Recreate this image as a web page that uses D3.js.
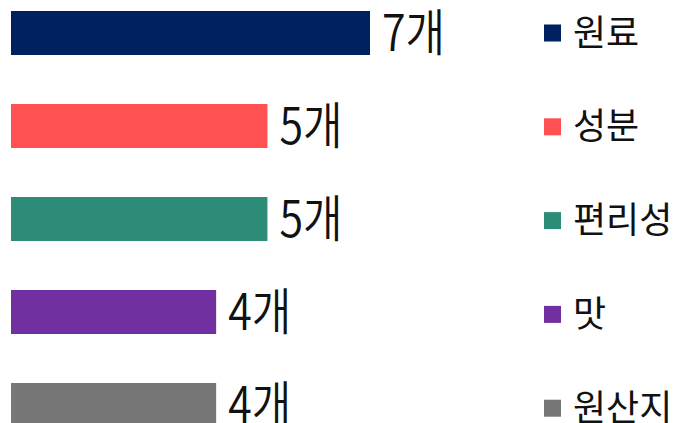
<!DOCTYPE html>
<html>
<head>
<meta charset="utf-8">
<script src="https://cdn.jsdelivr.net/npm/d3@7"></script>
<style>
  html, body { margin: 0; padding: 0; background: #ffffff; }
  svg { display: block; }
</style>
</head>
<body>
<svg id="chart" width="677" height="423"></svg>
<script>
const categories = ["원료", "성분", "편리성", "맛", "원산지"];
const values = [7, 5, 5, 4, 4];
const valueLabels = ["7개", "5개", "5개", "4개", "4개"];
const colors = ["#00215F", "#FF5052", "#2D8C78", "#7030A0", "#777777"];

const svg = d3.select("#chart");

const x = d3.scaleLinear().domain([0, 7]).range([11, 370]);
const y = d3.scaleBand().domain(categories).range([11, 427]).paddingInner(49 / 93).paddingOuter(0);

// bars
svg.selectAll("rect.bar")
  .data(categories)
  .join("rect")
  .attr("class", "bar")
  .attr("x", x(0))
  .attr("y", d => y(d))
  .attr("width", (d, i) => x(values[i]) - x(0))
  .attr("height", y.bandwidth())
  .attr("fill", (d, i) => colors[i]);

// value labels (condensed look)
svg.selectAll("text.val")
  .data(categories)
  .join("text")
  .attr("class", "val")
  .attr("transform", (d, i) => `translate(${x(values[i]) + 12},${y(d) + y.bandwidth() / 2 + 18}) scale(0.86,1)`)
  .attr("font-family", "'Noto Sans CJK KR', 'Noto Sans', sans-serif")
  .attr("font-size", 50)
  .attr("font-weight", 350)
  .attr("fill", "#111111")
  .text((d, i) => valueLabels[i]);

// legend
const lg = svg.selectAll("g.leg")
  .data(categories)
  .join("g")
  .attr("class", "leg")
  .attr("transform", (d, i) => `translate(544,${y(d) + y.bandwidth() / 2 + i * 0.8})`);

lg.append("rect")
  .attr("x", 0)
  .attr("y", -8.5)
  .attr("width", 17)
  .attr("height", 17)
  .attr("fill", (d, i) => colors[i]);

lg.append("text")
  .attr("x", 29)
  .attr("y", 12.5)
  .attr("font-family", "'Noto Sans CJK KR', sans-serif")
  .attr("font-size", 36)
  .attr("fill", "#111111")
  .text(d => d);
</script>
</body>
</html>
